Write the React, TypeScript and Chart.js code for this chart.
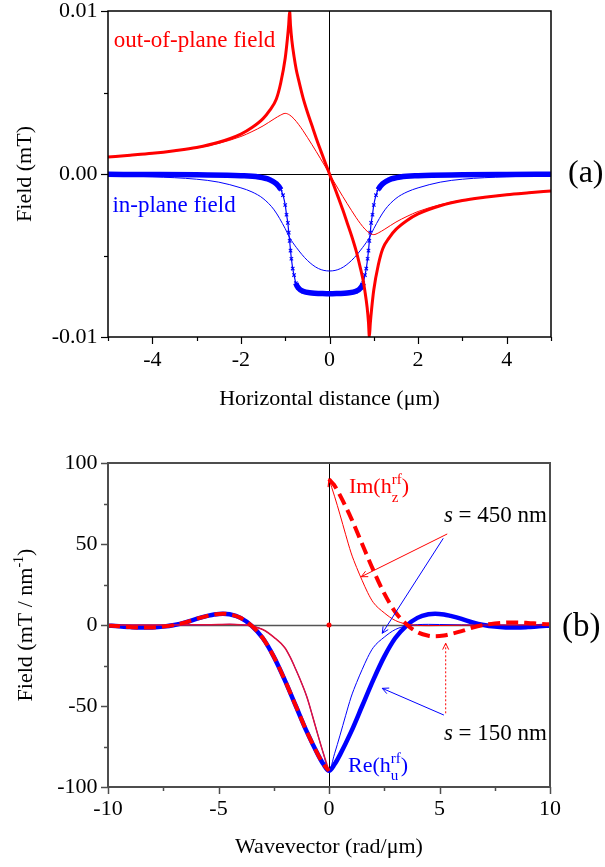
import React, { useEffect, useRef } from 'react';
import { Chart, registerables } from 'chart.js';

Chart.register(...registerables);

const SERIF = '"Liberation Serif", "Times New Roman", serif';
const RED = '#ff0000';
const BLUE = '#0000ff';
const CRIMSON = '#e0103c';

// ---------------- Panel (a): field (mT) vs horizontal distance (um) ----------------
const aXMin = -5;
const aXMax = 5;
const aXStep = 1;
const aXLabelValues = [-4, -2, 0, 2, 4];
const aXLabelTexts = ['-4', '-2', '0', '2', '4'];
const aYMin = -0.01;
const aYMax = 0.01;
const aYStep = 0.005;
const aYLabelValues = [-0.01, 0, 0.01];
const aYLabelTexts = ['-0.01', '0.00', '0.01'];

// out-of-plane field, s = 150 nm (thick red)
const aOutThickX = [-5, -4.5, -4, -3.5, -3, -2.5, -2, -1.75, -1.5, -1.35, -1.2, -1.1, -1.0, -0.95, -0.92, -0.9, -0.88, -0.85, -0.8, -0.75, -0.7, -0.6, -0.5, -0.4, -0.3, -0.2, -0.1,
  0, 0.1, 0.2, 0.3, 0.4, 0.5, 0.6, 0.7, 0.75, 0.8, 0.85, 0.88, 0.9, 0.92, 0.95, 1.0, 1.1, 1.2, 1.35, 1.5, 1.75, 2, 2.5, 3, 3.5, 4, 4.5, 5];
const aOutThickY = [0.00104, 0.00115, 0.00127, 0.00143, 0.00163, 0.00195, 0.00245, 0.00285, 0.0034, 0.0039, 0.0046, 0.0056, 0.0071, 0.0083, 0.0092, 0.01, 0.0091, 0.0082, 0.0072, 0.0064, 0.0058, 0.0047, 0.0038, 0.003, 0.0022, 0.00145, 0.00072,
  0, -0.00072, -0.00145, -0.0022, -0.003, -0.0038, -0.0047, -0.0058, -0.0064, -0.0072, -0.0082, -0.0091, -0.01, -0.0092, -0.0083, -0.0071, -0.0056, -0.0046, -0.0039, -0.0034, -0.00285, -0.00245, -0.00195, -0.00163, -0.00143, -0.00127, -0.00115, -0.00104];

// out-of-plane field, s = 450 nm (thin red)
const aOutThinX = [-5, -4, -3, -2.5, -2, -1.75, -1.5, -1.25, -1.1, -1.0, -0.9, -0.8, -0.7, -0.6, -0.5, -0.4, -0.3, -0.2, -0.1,
  0, 0.1, 0.2, 0.3, 0.4, 0.5, 0.6, 0.7, 0.8, 0.9, 1.0, 1.1, 1.25, 1.5, 1.75, 2, 2.5, 3, 4, 5];
const aOutThinY = [0.00102, 0.00125, 0.0016, 0.00188, 0.0023, 0.0026, 0.00295, 0.00338, 0.00362, 0.00372, 0.00362, 0.00338, 0.00305, 0.00267, 0.00225, 0.00182, 0.00138, 0.00093, 0.00047,
  0, -0.00047, -0.00093, -0.00138, -0.00182, -0.00225, -0.00267, -0.00305, -0.00338, -0.00362, -0.00372, -0.00362, -0.00338, -0.00295, -0.0026, -0.0023, -0.00188, -0.0016, -0.00125, -0.00102];

// in-plane field, s = 150 nm (thick blue, cross markers)
const aInThickX = [-5, -4, -3, -2, -1.6, -1.35, -1.2, -1.1, -1.05, -1.0, -0.97, -0.94, -0.92, -0.9, -0.88, -0.86, -0.83, -0.8, -0.76, -0.7, -0.6, -0.4, -0.2,
  0, 0.2, 0.4, 0.6, 0.7, 0.76, 0.8, 0.83, 0.86, 0.88, 0.9, 0.92, 0.94, 0.97, 1.0, 1.05, 1.1, 1.2, 1.35, 1.6, 2, 3, 4, 5];
const aInThickY = [-0.00002, -0.00003, -0.00005, -0.0001, -0.00018, -0.00035, -0.0006, -0.00095, -0.0013, -0.0019, -0.0025, -0.003, -0.0036, -0.0041, -0.0047, -0.0052, -0.0058, -0.0062, -0.0067, -0.007, -0.0072, -0.0073, -0.00733,
  -0.00735, -0.00733, -0.0073, -0.0072, -0.007, -0.0067, -0.0062, -0.0058, -0.0052, -0.0047, -0.0041, -0.0036, -0.003, -0.0025, -0.0019, -0.0013, -0.00095, -0.0006, -0.00035, -0.00018, -0.0001, -0.00005, -0.00003, -0.00002];

// in-plane field, s = 450 nm (thin blue)
const aInThinX = [-5, -4, -3, -2.5, -2, -1.75, -1.5, -1.25, -1.0, -0.9, -0.75, -0.5, -0.25,
  0, 0.25, 0.5, 0.75, 0.9, 1.0, 1.25, 1.5, 1.75, 2, 2.5, 3, 4, 5];
const aInThinY = [-0.0001, -0.00017, -0.00032, -0.0005, -0.00085, -0.0011, -0.0015, -0.0022, -0.00335, -0.0039, -0.0045, -0.0053, -0.0058,
  -0.00595, -0.0058, -0.0053, -0.0045, -0.0039, -0.00335, -0.0022, -0.0015, -0.0011, -0.00085, -0.0005, -0.00032, -0.00017, -0.0001];

// ---------------- Panel (b): field (mT / nm^-1) vs wavevector (rad/um) ----------------
const bXMin = -10;
const bXMax = 10;
const bXStep = 2.5;
const bXLabelValues = [-10, -5, 0, 5, 10];
const bXLabelTexts = ['-10', '-5', '0', '5', '10'];
const bYMin = -100;
const bYMax = 100;
const bYStep = 25;
const bYLabelValues = [-100, -50, 0, 50, 100];
const bYLabelTexts = ['-100', '-50', '0', '50', '100'];

// s = 150 nm
const b150X = [-10, -9.5, -9, -8.5, -8, -7.5, -7, -6.5, -6, -5.5, -5.2, -4.8, -4.5, -4, -3.5, -3, -2.5, -2, -1.5, -1, -0.5, -0.25,
  0, 0.25, 0.5, 1, 1.5, 2, 2.5, 3, 3.5, 4, 4.5, 4.8, 5.2, 5.5, 6, 6.5, 7, 7.5, 8, 8.5, 9, 9.5, 10];
const b150Re = [-0.4, -0.8, -1.3, -1.6, -1.5, -1.0, 0, 1.6, 3.8, 5.6, 6.5, 7.0, 6.6, 4.4, -0.5, -8, -19.5, -34, -50, -66, -80, -86,
  -90, -86, -80, -66, -50, -34, -19.5, -8, -0.5, 4.4, 6.6, 7.0, 6.5, 5.6, 3.8, 1.6, 0, -1.0, -1.5, -1.6, -1.3, -0.8, -0.4];
const b150ImX = [-10, -9.5, -9, -8.5, -8, -7.5, -7, -6.5, -6, -5.5, -5.2, -4.8, -4.5, -4, -3.5, -3, -2.5, -2, -1.5, -1, -0.5, -0.25,
  0, 0, 0, 0.25, 0.5, 1, 1.5, 2, 2.5, 3, 3.5, 4, 4.5, 4.8, 5.2, 5.5, 6, 6.5, 7, 7.5, 8, 8.5, 9, 9.5, 10];
const b150Im = [-0.4, -0.8, -1.3, -1.6, -1.5, -1.0, 0, 1.6, 3.8, 5.6, 6.5, 7.0, 6.6, 4.4, -0.5, -8, -19.5, -34, -50, -66, -80, -86,
  -90, null, 90, 86, 80, 66, 50, 34, 19.5, 8, 0.5, -4.4, -6.6, -7.0, -6.5, -5.6, -3.8, -1.6, 0, 1.0, 1.5, 1.6, 1.3, 0.8, 0.4];

// s = 450 nm
const b450X = [-10, -8, -7, -6, -5, -4.5, -4, -3.5, -3, -2.5, -2, -1.75, -1.5, -1.25, -1, -0.75, -0.5, -0.25,
  0, 0.25, 0.5, 0.75, 1, 1.25, 1.5, 1.75, 2, 2.5, 3, 3.5, 4, 4.5, 5, 6, 7, 8, 10];
const b450Re = [0, 0, 0, 0.1, 0.3, 0.4, 0.2, -0.6, -2.8, -7.5, -14, -20, -27.5, -35.5, -44.5, -56, -68, -79.5,
  -90, -79.5, -68, -56, -44.5, -35.5, -27.5, -20, -14, -7.5, -2.8, -0.6, 0.2, 0.4, 0.3, 0.1, 0, 0, 0];
const b450ImX = [-10, -8, -7, -6, -5, -4.5, -4, -3.5, -3, -2.5, -2, -1.75, -1.5, -1.25, -1, -0.75, -0.5, -0.25,
  0, 0, 0, 0.25, 0.5, 0.75, 1, 1.25, 1.5, 1.75, 2, 2.5, 3, 3.5, 4, 4.5, 5, 6, 7, 8, 10];
const b450Im = [0, 0, 0, 0.1, 0.3, 0.4, 0.2, -0.6, -2.8, -7.5, -14, -20, -27.5, -35.5, -44.5, -56, -68, -79.5,
  -90, null, 90, 79.5, 68, 56, 44.5, 35.5, 27.5, 20, 14, 7.5, 2.8, 0.6, -0.2, -0.4, -0.3, -0.1, 0, 0, 0];

const bOriginX = [0];
const bOriginY = [0];

// ---------------- helpers ----------------
const pts = (xs: number[], ys: (number | null)[]) => xs.map((x, i) => ({ x, y: ys[i] }));

const labelFor = (values: number[], texts: string[], tol: number) => (v: number | string) => {
  const n = Number(v);
  const i = values.findIndex((t) => Math.abs(t - n) < tol);
  return i >= 0 ? texts[i] : '';
};

const crisp = (v: number) => Math.round(v) + 0.5;

function seg(ctx: CanvasRenderingContext2D, x1: number, y1: number, x2: number, y2: number) {
  ctx.beginPath();
  ctx.moveTo(x1, y1);
  ctx.lineTo(x2, y2);
  ctx.stroke();
}

function head(ctx: CanvasRenderingContext2D, x: number, y: number, ang: number, len = 7, spread = 0.45) {
  ctx.beginPath();
  ctx.moveTo(x - len * Math.cos(ang - spread), y - len * Math.sin(ang - spread));
  ctx.lineTo(x, y);
  ctx.lineTo(x - len * Math.cos(ang + spread), y - len * Math.sin(ang + spread));
  ctx.stroke();
}

function arrow(ctx: CanvasRenderingContext2D, x1: number, y1: number, x2: number, y2: number, color: string, dash: number[] = []) {
  ctx.save();
  ctx.strokeStyle = color;
  ctx.lineWidth = 1;
  ctx.setLineDash(dash);
  seg(ctx, x1, y1, x2, y2);
  ctx.setLineDash([]);
  head(ctx, x2, y2, Math.atan2(y2 - y1, x2 - x1));
  ctx.restore();
}

type Part = { t: string; size: number; italic?: boolean; dy?: number; keep?: boolean };

function partsWidth(ctx: CanvasRenderingContext2D, parts: Part[]) {
  let w = 0;
  let kept = 0;
  for (const p of parts) {
    ctx.font = `${p.italic ? 'italic ' : ''}${p.size}px ${SERIF}`;
    const pw = ctx.measureText(p.t).width;
    if (p.keep) { kept = pw; continue; }
    w += Math.max(pw, kept);
    kept = 0;
  }
  return w;
}

function drawParts(ctx: CanvasRenderingContext2D, x: number, y: number, parts: Part[], color: string) {
  ctx.save();
  ctx.fillStyle = color;
  ctx.textAlign = 'left';
  ctx.textBaseline = 'alphabetic';
  let cx = x;
  let kept = 0;
  for (const p of parts) {
    ctx.font = `${p.italic ? 'italic ' : ''}${p.size}px ${SERIF}`;
    ctx.fillText(p.t, cx, y + (p.dy || 0));
    const pw = ctx.measureText(p.t).width;
    if (p.keep) { kept = pw; continue; }
    cx += Math.max(pw, kept);
    kept = 0;
  }
  ctx.restore();
}

function drawFrameAndTicks(chart: any, color: string, width: number, tickWidth: number) {
  const { ctx, chartArea: a, scales } = chart;
  const { x, y } = scales;
  ctx.save();
  ctx.strokeStyle = color;
  ctx.lineWidth = width;
  ctx.strokeRect(a.left, a.top, a.right - a.left, a.bottom - a.top);
  ctx.lineWidth = tickWidth;
  for (const t of x.ticks) {
    const px = crisp(x.getPixelForValue(t.value));
    const len = t.label ? 7 : 4;
    seg(ctx, px, a.bottom, px, a.bottom + len);
  }
  for (const t of y.ticks) {
    const py = crisp(y.getPixelForValue(t.value));
    const len = t.label ? 7 : 4;
    seg(ctx, a.left, py, a.left - len, py);
  }
  ctx.restore();
}

function zeroLines(chart: any, hColor: string, hWidth: number, vColor: string, vWidth: number) {
  const { ctx, chartArea: a, scales } = chart;
  const { x, y } = scales;
  const y0 = crisp(y.getPixelForValue(0) - 0.5);
  const x0 = crisp(x.getPixelForValue(0) - 0.5);
  ctx.save();
  ctx.strokeStyle = hColor;
  ctx.lineWidth = hWidth;
  seg(ctx, a.left, y0, a.right, y0);
  ctx.strokeStyle = vColor;
  ctx.lineWidth = vWidth;
  seg(ctx, x0, a.top, x0, a.bottom);
  ctx.restore();
}

function yTitle(ctx: CanvasRenderingContext2D, baseX: number, centerY: number, parts: Part[]) {
  ctx.save();
  ctx.translate(baseX, centerY);
  ctx.rotate(-Math.PI / 2);
  const w = partsWidth(ctx, parts);
  drawParts(ctx, -w / 2, 0, parts, '#000');
  ctx.restore();
}

function xTitle(ctx: CanvasRenderingContext2D, centerX: number, baseY: number, text: string) {
  ctx.save();
  ctx.font = `22px ${SERIF}`;
  ctx.fillStyle = '#000';
  ctx.textAlign = 'center';
  ctx.textBaseline = 'alphabetic';
  ctx.fillText(text, centerX, baseY);
  ctx.restore();
}

const tickFont = { family: SERIF, size: 22 };

// ---------------- panel (a) ----------------
const decorA = {
  id: 'decorA',
  beforeDatasetsDraw(chart: any) {
    zeroLines(chart, '#000', 1, '#000', 1);
  },
  afterDatasetsDraw(chart: any) {
    drawFrameAndTicks(chart, '#000', 1.5, 1.2);
  },
  afterDraw(chart: any) {
    const { ctx, chartArea: a, scales } = chart;
    const { x, y } = scales;
    xTitle(ctx, (a.left + a.right) / 2, a.bottom + 68, 'Horizontal distance (\u03bcm)');
    yTitle(ctx, a.left - 77, (a.top + a.bottom) / 2, [{ t: 'Field (mT)', size: 22 }]);
    drawParts(ctx, x.getPixelForValue(-4.87), y.getPixelForValue(0.0078), [{ t: 'out-of-plane field', size: 23 }], RED);
    drawParts(ctx, x.getPixelForValue(-4.9), y.getPixelForValue(-0.00234), [{ t: 'in-plane field', size: 23 }], BLUE);
    drawParts(ctx, a.right + 17, y.getPixelForValue(0) + 8, [{ t: '(a)', size: 32 }], '#000');
  },
};

function configA(): any {
  const steep = (c: any) => {
    const dx = Math.abs(c.p1.x - c.p0.x);
    const dy = Math.abs(c.p1.y - c.p0.y);
    return dy > 2.5 * dx && dy > 3;
  };
  return {
    type: 'line',
    data: {
      datasets: [
        { data: pts(aOutThickX, aOutThickY), borderColor: RED, borderWidth: 3, pointRadius: 0, cubicInterpolationMode: 'monotone' },
        { data: pts(aOutThinX, aOutThinY), borderColor: RED, borderWidth: 1, pointRadius: 0, cubicInterpolationMode: 'monotone' },
        {
          data: pts(aInThickX, aInThickY), borderColor: BLUE, borderWidth: 5.5, cubicInterpolationMode: 'monotone',
          segment: { borderWidth: (c: any) => (steep(c) ? 1.2 : 5.5) },
          pointStyle: 'crossRot', pointRadius: 2.4, pointBorderWidth: 1.1, pointBorderColor: BLUE, pointBackgroundColor: BLUE,
        },
        { data: pts(aInThinX, aInThinY), borderColor: BLUE, borderWidth: 1, pointRadius: 0, cubicInterpolationMode: 'monotone' },
      ],
    },
    options: {
      responsive: false,
      animation: false,
      events: [],
      layout: { padding: { top: 11, right: 54, left: 0, bottom: 0 } },
      plugins: { legend: { display: false }, tooltip: { enabled: false } },
      scales: {
        x: {
          type: 'linear', min: aXMin, max: aXMax,
          border: { display: false },
          grid: { display: false, drawTicks: false },
          ticks: { stepSize: aXStep, autoSkip: false, maxRotation: 0, padding: 10, color: '#000', font: tickFont, callback: labelFor(aXLabelValues, aXLabelTexts, 1e-6) },
          afterFit: (s: any) => { s.height = 93; s.paddingLeft = 0; s.paddingRight = 0; },
        },
        y: {
          type: 'linear', min: aYMin, max: aYMax,
          border: { display: false },
          grid: { display: false, drawTicks: false },
          ticks: { stepSize: aYStep, autoSkip: false, padding: 10.5, color: '#000', font: tickFont, callback: labelFor(aYLabelValues, aYLabelTexts, 1e-7) },
          afterFit: (s: any) => { s.width = 108; s.paddingTop = 0; s.paddingBottom = 0; },
        },
      },
    },
    plugins: [decorA],
  };
}

// ---------------- panel (b) ----------------
const decorB = {
  id: 'decorB',
  beforeDatasetsDraw(chart: any) {
    zeroLines(chart, '#555', 1.5, '#000', 1);
  },
  afterDatasetsDraw(chart: any) {
    drawFrameAndTicks(chart, '#4d4d4d', 2, 1.5);
  },
  afterDraw(chart: any) {
    const { ctx, chartArea: a, scales } = chart;
    const { x, y } = scales;
    const X = (v: number) => x.getPixelForValue(v);
    const Y = (v: number) => y.getPixelForValue(v);
    xTitle(ctx, (a.left + a.right) / 2, a.bottom + 66, 'Wavevector (rad/\u03bcm)');
    yTitle(ctx, a.left - 76, (a.top + a.bottom) / 2, [
      { t: 'Field (mT / nm', size: 22 },
      { t: '-1', size: 14, dy: -9 },
      { t: ')', size: 22 },
    ]);
    drawParts(ctx, X(0.9), Y(81.5), [
      { t: 'Im(h', size: 22 },
      { t: 'rf', size: 15, dy: -9, keep: true },
      { t: 'z', size: 15, dy: 9 },
      { t: ')', size: 22 },
    ], RED);
    drawParts(ctx, X(0.86), Y(-90.7), [
      { t: 'Re(h', size: 22 },
      { t: 'rf', size: 15, dy: -9, keep: true },
      { t: 'u', size: 15, dy: 8 },
      { t: ')', size: 22 },
    ], BLUE);
    drawParts(ctx, X(5.2), Y(63.6), [{ t: 's', size: 23, italic: true }, { t: ' = 450 nm', size: 23 }], '#000');
    drawParts(ctx, X(5.2), Y(-71), [{ t: 's', size: 23, italic: true }, { t: ' = 150 nm', size: 23 }], '#000');
    drawParts(ctx, a.right + 12, Y(0) + 11, [{ t: '(b)', size: 33 }], '#000');

    arrow(ctx, X(5.35), Y(56.2), X(1.46), Y(29.8), RED);
    arrow(ctx, X(5.17), Y(53.5), X(2.41), Y(-5.1), BLUE);
    arrow(ctx, X(5.2), Y(-55.6), X(2.41), Y(-39.1), BLUE);
    arrow(ctx, X(5.28), Y(-54.5), X(5.28), Y(-11.3), RED, [2, 2]);
    ctx.save();
    ctx.strokeStyle = RED;
    ctx.lineWidth = 1.2;
    const hx = X(0), hy = Y(90);
    const ang = Math.atan2(hy - Y(80), hx - X(0.3));
    head(ctx, hx, hy, ang, 8, 0.5);
    ctx.restore();
  },
};

function configB(): any {
  return {
    type: 'line',
    data: {
      datasets: [
        { data: pts(b150ImX, b150Im), borderColor: RED, borderWidth: 4, borderDash: [12, 6], pointRadius: 0, cubicInterpolationMode: 'monotone', spanGaps: false },
        {
          data: pts(b450ImX, b450Im), borderColor: RED, borderWidth: 1, pointRadius: 0, cubicInterpolationMode: 'monotone', spanGaps: false,
          segment: {
            borderColor: (c: any) => (c.p1.parsed.x <= 0 ? CRIMSON : RED),
            borderWidth: (c: any) => (c.p1.parsed.x <= 0 ? 1.5 : 1),
          },
        },
        { data: pts(bOriginX, bOriginY), showLine: false, pointRadius: 2.5, pointBackgroundColor: RED, pointBorderColor: RED, pointBorderWidth: 0 },
        { data: pts(b150X, b150Re), borderColor: BLUE, borderWidth: 4.5, pointRadius: 0, cubicInterpolationMode: 'monotone' },
        { data: pts(b450X, b450Re), borderColor: BLUE, borderWidth: 1, pointRadius: 0, cubicInterpolationMode: 'monotone' },
      ],
    },
    options: {
      responsive: false,
      animation: false,
      events: [],
      layout: { padding: { top: 33, right: 55, left: 0, bottom: 0 } },
      plugins: { legend: { display: false }, tooltip: { enabled: false } },
      scales: {
        x: {
          type: 'linear', min: bXMin, max: bXMax,
          border: { display: false },
          grid: { display: false, drawTicks: false },
          ticks: { stepSize: bXStep, autoSkip: false, maxRotation: 0, padding: 9, color: '#000', font: tickFont, callback: labelFor(bXLabelValues, bXLabelTexts, 1e-6) },
          afterFit: (s: any) => { s.height = 80; s.paddingLeft = 0; s.paddingRight = 0; },
        },
        y: {
          type: 'linear', min: bYMin, max: bYMax,
          border: { display: false },
          grid: { display: false, drawTicks: false },
          ticks: { stepSize: bYStep, autoSkip: false, padding: 10.5, color: '#000', font: tickFont, callback: labelFor(bYLabelValues, bYLabelTexts, 1e-6) },
          afterFit: (s: any) => { s.width = 108; s.paddingTop = 0; s.paddingBottom = 0; },
        },
      },
    },
    plugins: [decorB],
  };
}

export default function App() {
  const refA = useRef<HTMLCanvasElement>(null);
  const refB = useRef<HTMLCanvasElement>(null);
  useEffect(() => {
    const a = new Chart(refA.current as HTMLCanvasElement, configA());
    const b = new Chart(refB.current as HTMLCanvasElement, configB());
    return () => {
      a.destroy();
      b.destroy();
    };
  }, []);
  return (
    <div style={{ position: 'absolute', left: 0, top: 0, width: 605, height: 867, background: '#fff' }}>
      <canvas ref={refA} width={605} height={430} style={{ position: 'absolute', left: 0, top: 0, width: 605, height: 430 }} />
      <canvas ref={refB} width={605} height={437} style={{ position: 'absolute', left: 0, top: 430, width: 605, height: 437 }} />
    </div>
  );
}
